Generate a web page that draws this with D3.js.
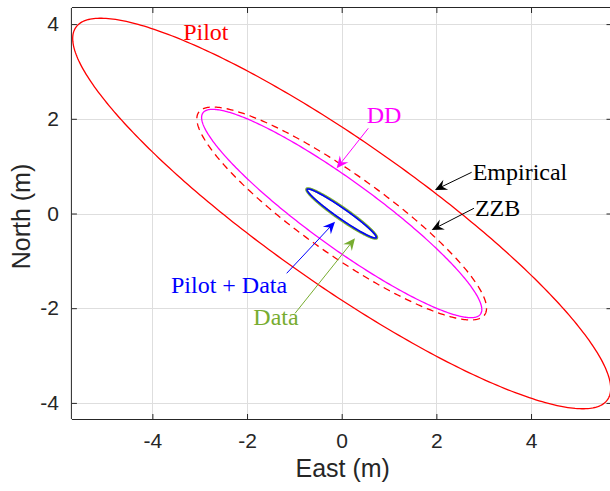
<!DOCTYPE html>
<html><head><meta charset="utf-8">
<script src="https://cdn.jsdelivr.net/npm/d3@7"></script>
<style>body{margin:0;background:#fff} svg{display:block}</style>
</head><body><svg id="c" width="610" height="491"></svg>
<script>
// ---- data ----
const xTicks = [-4, -2, 0, 2, 4];
const yTicks = [-4, -2, 0, 2, 4];
const xTickLabels = ["-4", "-2", "0", "2", "4"];
const yTickLabels = ["-4", "-2", "0", "2", "4"];
const xDomain = [-5.7, 5.7];
const yDomain = [-4.34, 4.34];
const xLabel = "East (m)";
const yLabel = "North (m)";

const ellipseNames = ["Pilot", "ZZB", "DD", "Data", "Pilot + Data"];
const semiMajor = [6.856, 3.701, 3.621, 0.905, 0.89];
const semiMinor = [1.517, 0.850, 0.699, 0.122, 0.108];
const angleDeg = [-35.0, -35.3, -35.95, -35.0, -35.0];
const ellipseColors = ["#ff0000", "#ff0000", "#ff00ff", "#77ac30", "#0000ff"];
const ellipseDash = [null, "7,5", null, null, null];
const ellipseWidth = [1.3, 1.3, 1.3, 2.6, 1.6];

const labelText = ["Pilot", "DD", "Empirical", "ZZB", "Pilot + Data", "Data"];
const labelX = [-3.35, 0.528, 2.767, 2.815, -3.607, -1.867];
const labelY = [3.67, 1.905, 0.707, -0.053, -1.685, -2.355];
const labelColor = ["#ff0000", "#ff00ff", "#000000", "#000000", "#0000ff", "#77ac30"];

const arrowFromX = [0.562, 2.745, 2.794, -1.162, -0.986];
const arrowFromY = [1.80, 0.870, 0.110, -1.263, -2.108];
const arrowToX = [-0.106, 1.970, 1.901, -0.141, 0.281];
const arrowToY = [0.955, 0.496, -0.348, -0.173, -0.524];
const arrowColor = ["#ff00ff", "#000000", "#000000", "#0000ff", "#77ac30"];

// ---- layout ----
const L = 71.9, R = 611.5, T = 8, B = 419;
const svg = d3.select("#c");
const x = d3.scaleLinear().domain(xDomain).range([L, R]);
const y = d3.scaleLinear().domain(yDomain).range([B, T]);

svg.append("defs").append("clipPath").attr("id", "clip")
  .append("rect").attr("x", L).attr("y", T).attr("width", R - L).attr("height", B - T);

// grid
const grid = svg.append("g").attr("stroke", "#dedede").attr("stroke-width", 1);
xTicks.forEach(v => grid.append("line").attr("x1", Math.round(x(v)) + 0.5).attr("x2", Math.round(x(v)) + 0.5).attr("y1", T).attr("y2", B));
yTicks.forEach(v => grid.append("line").attr("y1", Math.round(y(v)) + 0.5).attr("y2", Math.round(y(v)) + 0.5).attr("x1", L).attr("x2", R));

// ellipses
const tt = d3.range(0, 360, 1).map(d => d * Math.PI / 180);
const line = d3.line().x(d => x(d[0])).y(d => y(d[1])).curve(d3.curveLinearClosed);
const eg = svg.append("g").attr("clip-path", "url(#clip)");
ellipseNames.forEach((n, i) => {
  const th = angleDeg[i] * Math.PI / 180, a = semiMajor[i], b = semiMinor[i];
  const pts = tt.map(t => [a * Math.cos(t) * Math.cos(th) - b * Math.sin(t) * Math.sin(th),
                           a * Math.cos(t) * Math.sin(th) + b * Math.sin(t) * Math.cos(th)]);
  eg.append("path").attr("d", line(pts)).attr("fill", "none")
    .attr("stroke", ellipseColors[i]).attr("stroke-width", ellipseWidth[i])
    .attr("stroke-dasharray", ellipseDash[i]);
});

// axes (box with inward ticks)
const axC = "#262626";
const xa = d3.axisBottom(x).tickValues(xTicks).tickSize(-5).tickPadding(14).tickFormat((d, i) => xTickLabels[i]);
const ya = d3.axisLeft(y).tickValues(yTicks).tickSize(-5).tickPadding(13).tickFormat((d, i) => yTickLabels[i]);
const xt = d3.axisTop(x).tickValues(xTicks).tickSize(-5).tickFormat("");
const yr = d3.axisRight(y).tickValues(yTicks).tickSize(-5).tickFormat("");
function style(g) {
  g.selectAll("path,line").attr("stroke", axC).attr("stroke-width", 1);
  g.selectAll("text").attr("fill", axC).style("font-family", "'Liberation Sans', Arial, sans-serif").style("font-size", "21px");
}
svg.append("g").attr("transform", `translate(0,${B})`).call(xa).call(style).call(g => g.select(".domain").attr("d", `M${L},0.5H${R}`));
svg.append("g").attr("transform", `translate(${L},0)`).call(ya).call(style).call(g => g.select(".domain").attr("d", `M-0.5,${T}V${B}`));
svg.append("g").attr("transform", `translate(0,${T})`).call(xt).call(style).call(g => g.select(".domain").attr("d", `M${L},-0.5H${R}`));
svg.append("g").attr("transform", `translate(${R},0)`).call(yr).call(style).call(g => g.select(".domain").attr("d", `M0.5,${T}V${B}`));

svg.append("text").attr("x", (L + R) / 2 + 1).attr("y", 477).attr("text-anchor", "middle")
  .attr("fill", axC).style("font-family", "'Liberation Sans', Arial, sans-serif").style("font-size", "25px").text(xLabel);
svg.append("text").attr("transform", `translate(30,${(T + B) / 2 + 3}) rotate(-90)`).attr("text-anchor", "middle")
  .attr("fill", axC).style("font-family", "'Liberation Sans', Arial, sans-serif").style("font-size", "25px").text(yLabel);

// arrows
const ag = svg.append("g");
arrowFromX.forEach((v, i) => {
  const x1 = x(v), y1 = y(arrowFromY[i]), x2 = x(arrowToX[i]), y2 = y(arrowToY[i]);
  const ang = Math.atan2(y2 - y1, x2 - x1);
  const hl = 12, hw = 5.5;
  ag.append("line").attr("x1", x1).attr("y1", y1)
    .attr("x2", x2 - Math.cos(ang) * hl * 0.6).attr("y2", y2 - Math.sin(ang) * hl * 0.6)
    .attr("stroke", arrowColor[i]).attr("stroke-width", 1);
  const c = Math.cos(ang), s = Math.sin(ang);
  const p = (dx, dy) => [x2 + dx * c - dy * s, y2 + dx * s + dy * c];
  const pts = [p(0, 0), p(-hl, hw), p(-hl * 0.65, 0), p(-hl, -hw)];
  ag.append("path").attr("d", "M" + pts.map(q => q.join(",")).join("L") + "Z").attr("fill", arrowColor[i]);
});

// labels
const lg = svg.append("g").style("font-family", "'Liberation Serif', 'Times New Roman', serif").style("font-size", "24px");
labelText.forEach((t, i) => {
  lg.append("text").attr("x", x(labelX[i])).attr("y", y(labelY[i])).attr("fill", labelColor[i]).text(t);
});
</script></body></html>
